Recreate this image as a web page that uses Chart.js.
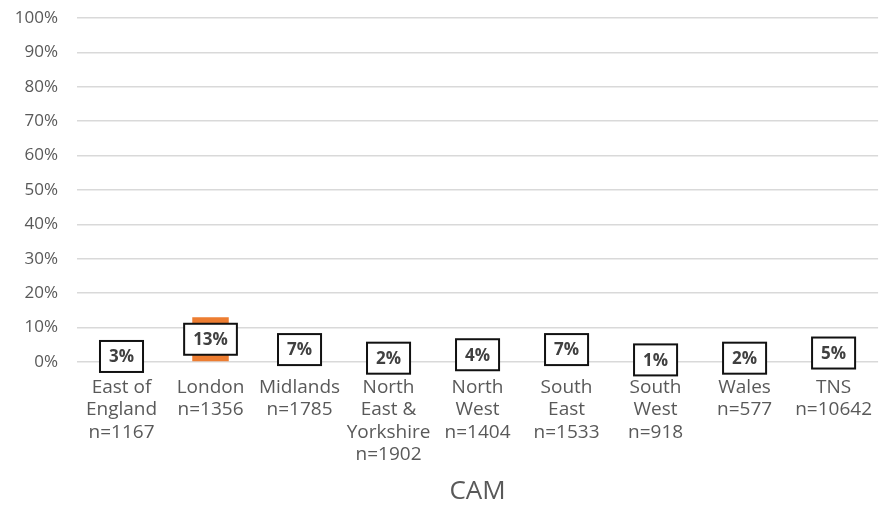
<!DOCTYPE html>
<html>
<head>
<meta charset="utf-8">
<script src="https://cdn.jsdelivr.net/npm/chart.js@4"></script>
<style>
  html, body { margin: 0; padding: 0; background: #fff; overflow: hidden; }
  #wrap { width: 887px; height: 509px; }
</style>
</head>
<body>
<div id="wrap"><canvas id="chart"></canvas></div>
<script>
// regions with sample sizes, one array entry per label line
const regions = [
    ['East of', 'England', 'n=1167'],
    ['London', 'n=1356'],
    ['Midlands', 'n=1785'],
    ['North', 'East &', 'Yorkshire', 'n=1902'],
    ['North', 'West', 'n=1404'],
    ['South', 'East', 'n=1533'],
    ['South', 'West', 'n=918'],
    ['Wales', 'n=577'],
    ['TNS', 'n=10642']
];
const camShare = [3, 13, 7, 2, 4, 7, 1, 2, 5];
const yMin = 0;
const yMax = 100;
const yStep = 10;

const FONT = '"Open Sans", sans-serif';

// white boxed labels sitting in the middle of each bar
const boxLabels = {
    id: 'boxLabels',
    afterDatasetsDraw(chart) {
        const ctx = chart.ctx;
        const meta = chart.getDatasetMeta(0);
        ctx.save();
        ctx.font = 'bold 17px ' + FONT;
        ctx.textAlign = 'center';
        ctx.textBaseline = 'middle';
        meta.data.forEach((bar, i) => {
            const txt = camShare[i] + '%';
            const cy = (bar.y + bar.base) / 2;
            const w = ctx.measureText(txt).width + 18;
            const h = 31;
            ctx.fillStyle = '#fff';
            ctx.fillRect(bar.x - w / 2, cy - h / 2, w, h);
            ctx.lineWidth = 2;
            ctx.strokeStyle = '#111';
            ctx.strokeRect(bar.x - w / 2, cy - h / 2, w, h);
            ctx.fillStyle = '#404040';
            ctx.fillText(txt, bar.x, cy + 1);
        });
        ctx.restore();
    }
};

new Chart(document.getElementById('chart'), {
    type: 'bar',
    data: {
        labels: regions,
        datasets: [{
            label: 'CAM',
            data: camShare,
            backgroundColor: '#ED7D31',
            categoryPercentage: 1,
            barPercentage: 0.41
        }]
    },
    options: {
        responsive: true,
        maintainAspectRatio: false,
        animation: false,
        layout: { padding: { top: 18, left: 0, right: 0, bottom: 0 } },
        plugins: {
            legend: { display: false },
            tooltip: { enabled: false }
        },
        scales: {
            x: {
                grid: { display: false, drawTicks: false },
                border: { display: false },
                ticks: {
                    color: '#595959',
                    font: { family: FONT, size: 19, lineHeight: 1.16 },
                    padding: 15,
                    maxRotation: 0,
                    autoSkip: false
                },
                title: {
                    display: true,
                    text: 'CAM',
                    color: '#595959',
                    font: { family: FONT, size: 26, lineHeight: 1 },
                    padding: { top: 0, bottom: 4 }
                },
                afterFit(scale) { scale.height = 147; }
            },
            y: {
                min: yMin,
                max: yMax,
                grid: { color: '#d9d9d9', lineWidth: 1.5, drawTicks: false },
                border: { display: false },
                ticks: {
                    stepSize: yStep,
                    color: '#595959',
                    font: { family: FONT, size: 17 },
                    padding: 19,
                    callback: v => v + '%'
                },
                afterFit(scale) {
                    scale.width = 77;
                    scale.paddingTop = 0;
                    scale.paddingBottom = 0;
                }
            }
        }
    },
    plugins: [boxLabels]
});
</script>
</body>
</html>
